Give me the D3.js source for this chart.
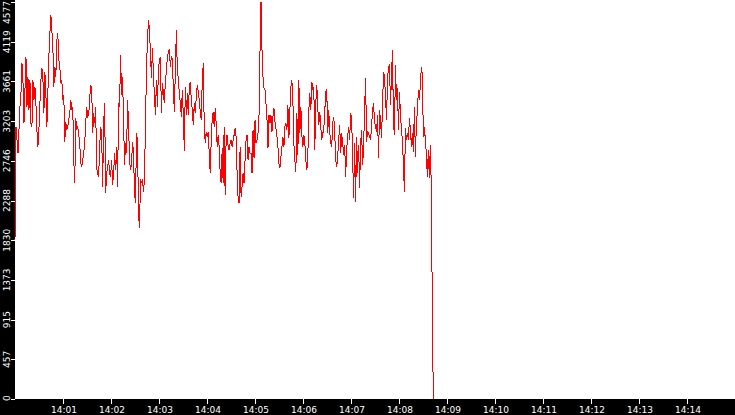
<!DOCTYPE html>
<html>
<head>
<meta charset="utf-8">
<script src="https://cdn.jsdelivr.net/npm/d3@7"></script>
<style>
  html, body { margin: 0; padding: 0; background: #000; overflow: hidden; }
  svg { display: block; }
  .lbl { fill: #fff; font-family: "DejaVu Sans", sans-serif; font-size: 9px; }
</style>
</head>
<body>
<svg id="chart"></svg>
<script>
// ─── Data ───────────────────────────────────────────────────────────────────
// One sample every STEP_SEC seconds starting at START.
const START = new Date(2000, 0, 1, 14, 0, 0);
const END = new Date(2000, 0, 1, 14, 15, 0);
const STEP_SEC = 1.245;
const Y_MAX = 4577;

const part1 = [1833, 3140, 2986, 2832, 3101, 3370, 3524, 3870, 3678, 3178, 3562, 3947, 3370, 3716, 3332, 3678,
  3178, 3140, 3678, 3447, 3601, 3409, 3101, 2909, 3101, 3409, 3678, 3812, 3716, 3293, 3774, 3524, 3140, 3524,
  3947, 4216, 4427, 4254, 4062, 3601, 3831, 3716, 4139, 4216, 3908, 3831, 3639, 3678, 3447];
const part2 = [3505, 2967, 3197, 3101, 3140, 3217, 3293, 3447, 3332, 3370, 2755, 2494, 3236, 3120, 3140, 3044,
  2948, 2717, 2679, 2755, 2832, 2948, 3178, 3370, 3255, 3274, 3466, 3620, 3582, 3063, 3293, 3178, 3370, 2659,
  2602, 2563, 2909, 3140, 3063, 2448, 3178, 3409, 2371, 2602, 2679, 2755];
const part3 = [2602, 2563, 2755, 2467, 2602, 2832, 2640, 2909, 2448, 3409, 3370, 3966, 3505, 3716, 3197, 2698,
  2948, 2832, 3447, 3178, 2755, 2640, 2717, 2967, 2832, 2371, 2256, 3063, 2986, 2141, 1968, 2525, 2506, 2525,
  2390, 2525, 3178, 3793, 4139, 4369, 4254, 3985, 3697, 4043, 3755, 3486, 3274, 3678];
const part4 = [3370, 3793, 3908, 3947, 3293, 3639, 3524, 3409, 3678, 3774, 3947, 4004, 4024, 3831, 3947, 3927,
  3562, 3313, 3793, 4254, 3793, 3697, 3524, 3409, 3255, 3562, 3255, 2863, 3601, 3274, 3524, 3274, 3601, 3658,
  3447, 3332, 3159, 3409, 3293, 3486, 3620, 3543, 3447, 3313, 3217, 3658, 3870];
const part5 = [3140, 2948, 3082, 3024, 3082, 2832, 2602, 2986, 3236, 3313, 3140, 3351, 3178, 2909, 3044, 2909,
  2602, 2486, 2890, 2486, 3140, 2352, 3005, 3044, 2909, 2871, 2948, 2986, 2909, 2986, 3044, 3120, 3024, 2602,
  2313, 2256, 2909, 2333, 2448, 2602, 2486, 2755, 2986, 3044, 2755, 2909, 2832];
const part6 = [2832, 2602, 3101, 2775, 3217, 2948, 2986, 3063, 3274, 4024, 4577, 4024, 3716, 3582, 3562, 3409,
  3217, 2890, 3274, 3178, 3274, 3082, 3255, 3351, 3197, 3120, 3024, 2909, 2717, 2659, 2794, 2909, 3024, 2909,
  3140, 3178, 3101, 3389, 3005, 3332, 3601, 3678, 3447, 2948, 2755, 2621, 3293];
const part7 = [2813, 3678, 3063, 3370, 3044, 2909, 3044, 2948, 2755, 2640, 2794, 3332, 3524, 3332, 3658, 3562,
  3593, 2871, 3409, 3620, 3351, 3159, 3313, 3140, 2986, 3063, 3101, 3313, 3543, 3562, 3063, 3332, 3082, 2948,
  2909, 3178, 3255, 3063, 2755, 2679, 2794, 2986, 3159, 2832, 3063, 2948, 2813];
const part8 = [2928, 2563, 2871, 3024, 3140, 2986, 3293, 3236, 2775, 2313, 2948, 2275, 3024, 2602, 2928, 2429,
  2948, 3101, 2698, 2909, 3351, 3697, 2967, 3082, 3063, 3024, 2986, 3140, 3332, 3409, 3197, 3140, 3082, 3274,
  2775, 3332, 3217, 3005, 3389, 3774, 3716, 3486, 3217, 3678, 3831, 3851, 3389];
const part9 = [3735, 4024, 3178, 3044, 3851, 3447, 3582, 3101, 3543, 3293, 3101, 2986, 2679, 2390, 3120, 2986,
  3063, 2986, 3236, 3101, 2909, 3063, 2851, 3370, 2794, 3178, 3313, 3562, 3447, 3620, 3831, 3735, 3024, 3140,
  2986, 2832, 2563, 2871, 2544, 2928, 2429, 1026, 0];

const yTickLabels = ['0', '457', '915', '1373', '1830', '2288', '2746', '3203', '3661', '4119', '4577'];
const xTickLabels = ['14:01', '14:02', '14:03', '14:04', '14:05', '14:06', '14:07',
  '14:08', '14:09', '14:10', '14:11', '14:12', '14:13', '14:14'];

// ─── Setup ──────────────────────────────────────────────────────────────────
const W = 735, H = 415;
const M = { left: 15, right: 0, top: 2, bottom: 16 };
const PLOT_BOTTOM = H - M.bottom; // 399

const values = [].concat(part1, part2, part3, part4, part5, part6, part7, part8, part9);
const series = values.map((v, i) => ({ t: new Date(START.getTime() + i * STEP_SEC * 1000), v }));

const svg = d3.select('#chart').attr('width', W).attr('height', H);

svg.append('rect').attr('width', W).attr('height', H).attr('fill', '#000');
svg.append('rect')
  .attr('x', M.left).attr('y', 0)
  .attr('width', W - M.left).attr('height', PLOT_BOTTOM)
  .attr('fill', '#fff');

const x = d3.scaleTime().domain([START, END]).range([M.left, W - M.right]);
const y = d3.scaleLinear().domain([0, Y_MAX]).range([PLOT_BOTTOM, M.top]);

// ─── Line ───────────────────────────────────────────────────────────────────
const line = d3.line().x(d => x(d.t)).y(d => y(d.v));
svg.append('path')
  .datum(series)
  .attr('d', line)
  .attr('fill', 'none')
  .attr('stroke', '#ff0000')
  .attr('stroke-width', 1)
  .attr('shape-rendering', 'crispEdges');

// ─── Y axis (rotated labels in black strip) ─────────────────────────────────
const yTicks = yTickLabels.map(s => +s);
const gy = svg.append('g');
gy.selectAll('line')
  .data(yTicks)
  .join('line')
    .attr('x1', 11).attr('x2', M.left)
    .attr('y1', d => Math.round(y(d)) + 0.5).attr('y2', d => Math.round(y(d)) + 0.5)
    .attr('stroke', '#fff');

gy.selectAll('text')
  .data(yTickLabels)
  .join('text')
    .attr('class', 'lbl')
    .attr('text-anchor', 'middle')
    .text(d => d)
    .each(function (d) {
      // keep the end labels inside the plot height
      const len = this.getComputedTextLength();
      let pos = y(+d);
      if (pos - len / 2 < 1) pos = 1 + len / 2;
      if (pos + len / 2 > PLOT_BOTTOM + 2) pos = PLOT_BOTTOM + 2 - len / 2;
      d3.select(this).attr('transform', `translate(9.5, ${pos}) rotate(-90)`);
    });

// ─── X axis ─────────────────────────────────────────────────────────────────
const parseHM = d3.timeParse('%H:%M');
const xTicks = xTickLabels.map(s => {
  const p = parseHM(s);
  return new Date(2000, 0, 1, p.getHours(), p.getMinutes(), 0);
});
const gx = svg.append('g');
gx.selectAll('line')
  .data(xTicks)
  .join('line')
    .attr('x1', d => Math.round(x(d)) + 0.5).attr('x2', d => Math.round(x(d)) + 0.5)
    .attr('y1', PLOT_BOTTOM).attr('y2', PLOT_BOTTOM + 5)
    .attr('stroke', '#fff');

gx.selectAll('text')
  .data(xTicks)
  .join('text')
    .attr('class', 'lbl')
    .attr('text-anchor', 'middle')
    .attr('x', d => x(d) + 1)
    .attr('y', H - 2)
    .text((d, i) => xTickLabels[i]);
</script>
</body>
</html>
